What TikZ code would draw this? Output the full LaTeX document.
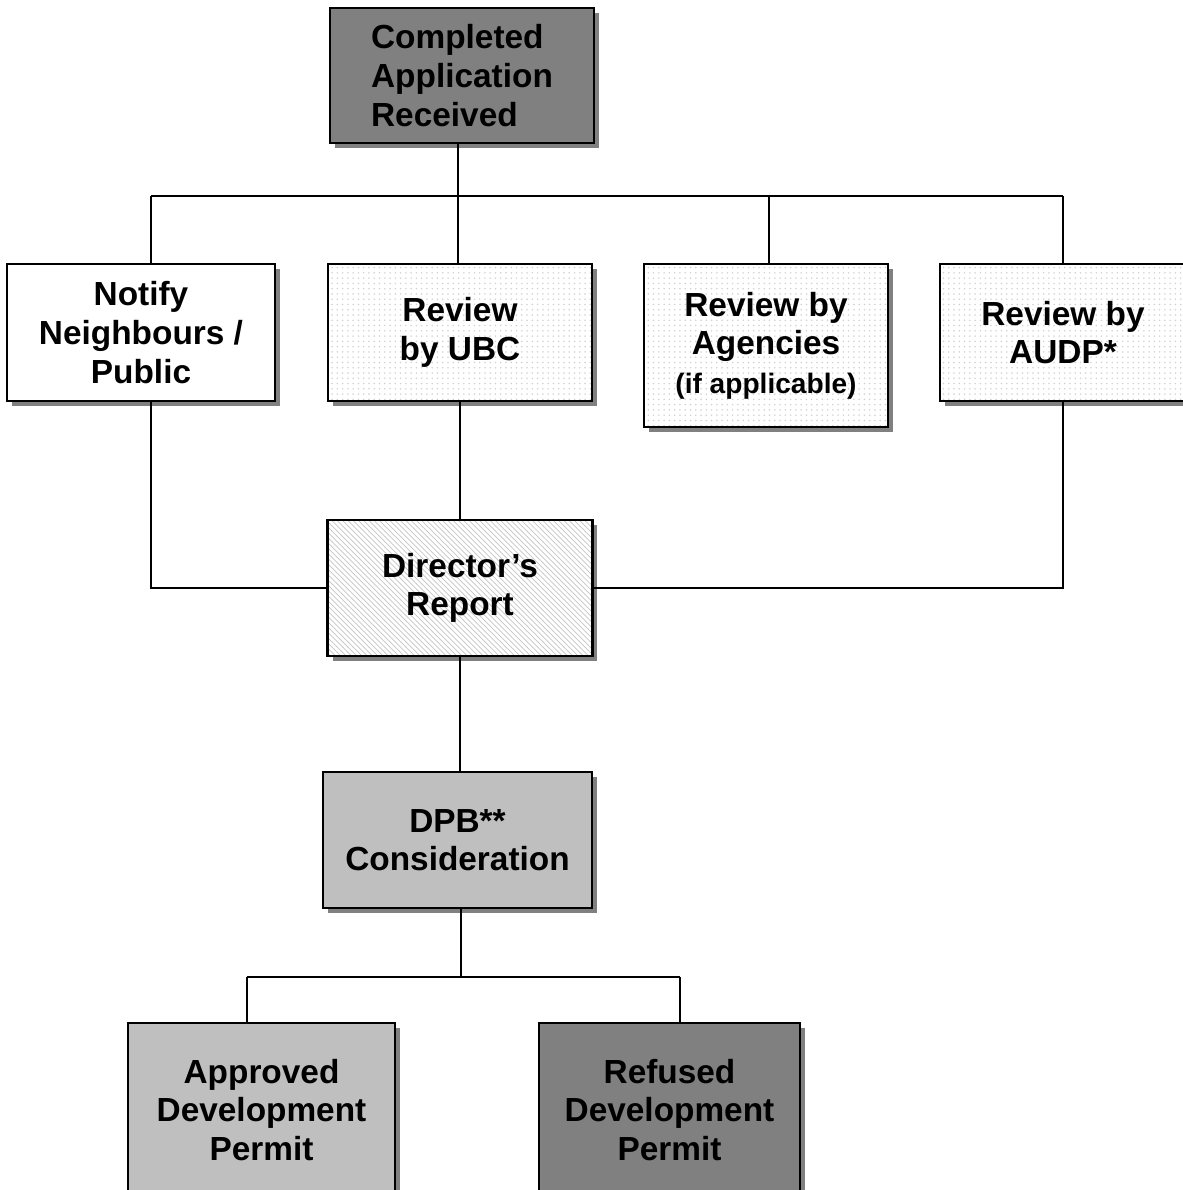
\documentclass[tikz,border=0pt]{standalone}
\usepackage{fontspec}
\setmainfont{Liberation Sans}
\usetikzlibrary{positioning,calc,shadows,patterns}

\begin{document}
\begin{tikzpicture}[x=0.02cm,y=-0.02cm,
    box/.style={draw=black,line width=1.3pt,align=center,inner sep=0pt,
      font=\fontsize{19}{22}\selectfont\bfseries,
      drop shadow={shadow xshift=0.1cm,shadow yshift=-0.1cm,fill=gray,opacity=1}},
    dark/.style={box,fill=gray},
    light/.style={box,fill=lightgray},
    plain/.style={box,fill=white},
    dotted box/.style={box,preaction={fill=white},pattern=dots,pattern color=gray!35},
    hatched box/.style={box,preaction={fill=white},pattern=north west lines,pattern color=gray!45},
    link/.style={line width=1.1pt}]
    \useasboundingbox (0,0) rectangle (1183,1190);

    \node[dark,align=left,minimum width=5.28cm,minimum height=2.7cm] (app) at (462,75.5) {Completed\\Application\\Received};

    \node[plain,minimum width=5.36cm,minimum height=2.74cm] (notify) at (141,332.5) {Notify\\Neighbours /\\Public};
    \node[dotted box,minimum width=5.28cm,minimum height=2.74cm] (ubc) at (460,332.5) {Review\\by UBC};
    \node[dotted box,minimum width=4.88cm,minimum height=3.26cm] (agency) at (766,345.5) {Review by\\Agencies\\{\fontsize{16}{19}\selectfont (if applicable)}};
    \node[dotted box,minimum width=4.92cm,minimum height=2.74cm] (audp) at (1063,332.5) {Review by\\AUDP*};

    \node[hatched box,minimum width=5.3cm,minimum height=2.72cm] (director) at (460,588) {Director's\\Report};

    \node[light,minimum width=5.38cm,minimum height=2.72cm] (dpb) at (457.5,840) {DPB**\\Consideration};

    \node[light,minimum width=5.34cm,minimum height=3.48cm] (approved) at (261.5,1110) {Approved\\Development\\Permit};
    \node[dark,minimum width=5.22cm,minimum height=3.48cm] (refused) at (669.5,1110) {Refused\\Development\\Permit};

    \coordinate (busN) at (151,196);
    \coordinate (busU) at (458,196);
    \coordinate (busG) at (769,196);
    \coordinate (busD) at (1063,196);
    \coordinate (fork) at (461,977);
    \coordinate (forkL) at (247,977);
    \coordinate (forkR) at (680,977);

    \draw[link] (app.south -| busU) -- (busU);
    \draw[link] (busN) -- (busD);
    \draw[link] (busN) -- (busN |- notify.north);
    \draw[link] (busU) -- (busU |- ubc.north);
    \draw[link] (busG) -- (busG |- agency.north);
    \draw[link] (busD) -- (busD |- audp.north);

    \draw[link] (notify.south -| busN) |- (director.west);
    \draw[link] (audp.south -| busD) |- (director.east);
    \draw[link] (ubc.south -| director.north) -- (director.north);
    \draw[link] (director.south) -- (dpb.north -| director.south);

    \draw[link] (dpb.south -| fork) -- (fork);
    \draw[link] (forkL) -- (forkR);
    \draw[link] (forkL) -- (forkL |- approved.north);
    \draw[link] (forkR) -- (forkR |- refused.north);
\end{tikzpicture}
\end{document}
